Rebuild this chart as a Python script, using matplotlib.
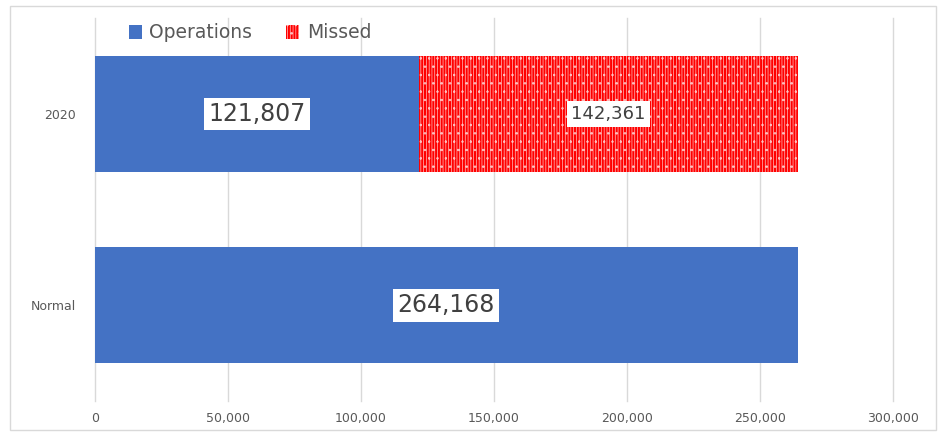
import numpy as np
import matplotlib.pyplot as plt
from matplotlib.patches import Rectangle

# data
categories = ['Normal', '2020']
operations = [264168, 121807]
missed = [0, 142361]
xticks = [0, 50000, 100000, 150000, 200000, 250000, 300000]

blue = '#4472c4'
red = '#ff0000'
txt = '#404040'

plt.rcParams['hatch.linewidth'] = 0.5
fig = plt.figure(figsize=(9.43, 4.33), dpi=100)
ax = fig.add_axes([95/943, 1-401/433, 798/943, 383/433])

y = np.arange(len(categories))
h = 0.606
b1 = ax.barh(y, operations, height=h, color=blue, label='Operations', zorder=2)
b2 = ax.barh(y[1:], missed[1:], left=operations[1:], height=h, color=red,
             hatch='||||||..', edgecolor='#ffc0c0', linewidth=0, label='Missed', zorder=2)

# value labels
box = dict(facecolor='white', edgecolor='none', pad=3)
for i, v in enumerate(operations):
    ax.text(v/2, y[i], f'{v:,}', ha='center', va='center', fontsize=17,
            color=txt, bbox=box, zorder=3)
ax.text(operations[1] + missed[1]/2, y[1], f'{missed[1]:,}', ha='center', va='center',
        fontsize=13, color=txt, bbox=box, zorder=3)

ax.set_xlim(0, 300000)
ax.set_ylim(-0.5, 1.5)
ax.set_xticks(xticks)
ax.set_xticklabels([f'{t:,}' for t in xticks])
ax.set_yticks(y)
ax.set_yticklabels(categories)
ax.tick_params(axis='both', length=0, labelsize=9, colors='#595959')
ax.tick_params(axis='y', pad=14)
ax.tick_params(axis='x', pad=8)
for t in xticks:
    ax.axvline(t, color='#d9d9d9', linewidth=1, zorder=0, clip_on=False)
for s in ax.spines.values():
    s.set_visible(False)

leg = fig.legend(handles=[b1, b2], loc='center', bbox_to_anchor=(250/943, 1-33/433),
                 ncol=2, frameon=False, fontsize=13.5, handlelength=0.7, handleheight=0.7,
                 handletextpad=0.4, columnspacing=1.8)
for t in leg.get_texts():
    t.set_color('#595959')

fig.patches.append(Rectangle((10/943, 1-430/433), 926/943, 424/433, transform=fig.transFigure,
                             fill=False, edgecolor='#d9d9d9', linewidth=1))

fig.savefig('out.png', dpi=100)
